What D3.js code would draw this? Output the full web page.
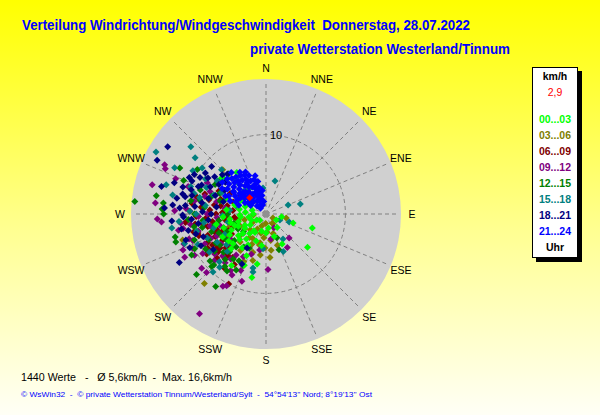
<!DOCTYPE html>
<html>
<head>
<meta charset="utf-8">
<script src="https://d3js.org/d3.v7.min.js"></script>
<style>
  body { margin: 0; }
  svg { display: block; font-family: "Liberation Sans", Arial, sans-serif; }
</style>
</head>
<body>
<svg width="600" height="415"></svg>
<script>
// wind values per 3-hour block: [direction in degrees, speed km/h]
const h00_03 = [[309.3,7.2],[192.5,8.2],[213.7,7.8],[151.9,4.3],[128.8,6.7],[108.4,3.6],[106.9,6.1],
  [242,3.0],[211,2.7],[268,3.3],[286,4.1],[299,2.3],[225,1.1],[240,5.3],[210,4.5],[230,3.8],[220,3.2],
  [250,4.2],[260,2.2],[275,2.6],[255,3.6],[235,2.4],[245,4.8],[262,4.6],[280,3.4],[290,2.8],[215,5.2],
  [200,3.6],[195,2.2],[205,5.8],[225,6.2],[232,4.4],[248,2.0],[270,1.6],[285,1.8],[238,1.4],[218,4.0],
  [252,5.6],[264,3.2],[276,5.0],[298,3.6],[306,2.6],[188,4.0],[180,2.4],[170,1.8],[160,3.0],[140,2.2],
  [120,1.5],[100,2.0],[190,6.4],[203,7.0],[228,5.6],[258,6.4],[292,5.4],[316,4.0],[318,5.8],[325,6.4],[310,6.6],
  [236,3.2],[246,3.8],[256,4.6],[226,4.6],[216,2.6],[242,6.2],[234,5.8],[266,5.4]];
const h03_06 = [[315.7,7.8],[252.6,11.0],[221.5,11.7],[195.8,6.1],[174.7,5.5],[101.3,2.6],[145,1.5],
  [208.4,3.5],[176.8,2.3],[191.7,3.7],[146,1.4],[181.7,4.3],[209.9,4.8],[222.9,4.8],[198.9,5.1],[185,3.0],
  [195,2.5],[205,4.2],[215,3.6],[225,2.8],[235,3.3],[200,1.6],[170,3.4],[188,5.2],[160,2.6],[215,5.6],
  [230,4.4],[245,3.6],[255,2.8],[265,1.6],[182,1.2],[210,2.2],[240,5.8],[226,6.4],[250,5.0],[160,4.2],
  [172,4.6],[120,1.0],[238,2.0],[205,6.6],[192,4.0]];
const h06_09 = [[274,7.1],[270,6.3],[266,7.6],[262,6.8],[258,7.5],[254,6.6],[250,7.8],[246,7.0],[242,6.2],
  [280,6.6],[284,7.4],[288,6.0],[292,5.4],[296,6.6],[276,8.2],[268,8.8],[260,8.0],[252,8.9],[244,8.2],
  [236,7.4],[230,6.6],[224,7.0],[236,9.0],[228,8.3],[218,8.6],[212,7.5],[282,5.0],[272,5.5],[262,5.2],
  [252,5.6],[240,5.0],[276,4.2],[264,4.0],[250,4.4],[290,4.4],[300,5.2],[306,4.0],[272,9.6],[284,9.0],
  [256,9.4],[264,10.2],[248,6.0],[234,5.8],[258,3.6],[288,8.1],[208.0,10.0],[254.4,8.9],[251.9,6.5],
  [239.6,8.5],[231.6,7.7],[238.8,6.4],[222.8,7.1],[217.5,6.9],[233.5,7.2],
  [266,5.0],[256,4.6],[246,5.2],[280,5.8],[270,7.2],[240,7.8],[228,6.0],[262,9.0],[278,9.4],[250,6.8]];
const h09_12 = [[295.9,14.2],[284.4,14.8],[275.7,14.0],[267.3,13.7],[265.6,13.2],[242,11.6],[229.8,10.6],
  [225.5,10.5],[210.8,10.6],[208.8,10.3],[177.9,7.0],[204,7.8],[199.7,9.0],[209.1,8.8],[147.5,5.0],
  [168.7,3.2],[136.2,4.2],[150.3,2.0],[213.7,15.1],[294.2,13.9],[291.3,12.2],[289.4,10.4],[259.5,11.2],
  [246.5,11.4],[244.7,10.2],[280,9.2],[274,10.1],[268,8.5],[262,9.6],[256,8.8],[250,9.8],[244,8.6],
  [238,9.4],[232,8.2],[226,7.6],[220,8.0],[286,8.0],[292,7.6],[298,8.4],[266,6.2],[256,6.0],[246,6.8],
  [236,5.5],[226,5.9],[216,6.4],[208,6.1],[200,5.4],[190,4.6],[278,5.2],[284,6.4],[260,10.6],[250,11.0],
  [240,10.4],[272,11.5],
  [270,7.4],[258,7.2],[246,7.6],[236,6.8],[228,8.8],[218,7.2],[212,8.4],[282,8.6],[264,10.8],[252,10.2]];
const h12_15 = [[317.2,6.9],[275.5,16.6],[279.4,14.0],[272.8,13.1],[270,12.9],[255.7,11.8],[252.7,11.9],
  [229,11.6],[214.8,11.1],[204.3,7.1],[214.4,8.7],[160.1,4.8],[155.4,3.3],[276.2,13.0],[298,12.3],
  [292.2,11.2],[302.9,10.3],[225.6,9.2],[241.1,10.7],[252,7.2],[246,7.9],[240,7.3],[234,8.0],[228,7.2],
  [222,7.7],[216,7.0],[210,6.8],[258,8.2],[264,8.0],[270,9.0],[276,7.8],[282,8.5],[288,7.2],[294,6.4],
  [300,7.4],[246,5.4],[238,6.0],[230,5.2],[222,5.6],[214,5.0],[206,4.8],[262,6.0],[270,4.8],[254,4.2],
  [242,4.0],[232,3.6],[280,9.6],[260,9.2],[250,9.6],[240,8.8],[226,9.5],[290,8.8],[306,7.2],
  [258,6.6],[248,6.4],[236,7.0],[224,6.6],[218,8.4],[230,9.2],[266,9.8],[286,6.0],[244,10.0],[208,8.0]];
const h15_18 = [[299.4,15.9],[311.8,12.7],[308.4,11.4],[296.8,12.9],[314.8,7.9],[15.3,4.3],[353.4,3.3],
  [261.5,12.0],[222.4,9.9],[221,8.9],[193.5,7.0],[192.6,7.5],[184.9,4.4],[155.3,5.2],[145.8,3.8],
  [113.2,1.9],[109.2,3.1],[67.8,3.0],[73.6,4.5],[300.6,10.7],[305.8,9.9],[286.3,13.1],[281.5,12.0],
  [250.1,10.9],[224.4,8.4],[290,7.0],[296,6.2],[303,5.8],[284,8.6],[278,7.7],[270,8.8],[262,7.9],
  [255,6.8],[248,8.0],[240,7.1],[232,6.3],[300,8.8],[310,6.9],[318,5.0],[325,3.8],[268,5.5],[276,4.6],
  [284,3.8],[258,4.9],[244,5.8],[290,10.1],[265,11.0],
  [286,9.4],[272,9.6],[256,9.0],[246,9.4],[236,8.6],[226,6.8],[304,7.4],[294,8.2]];
const h18_21 = [[304.4,15.0],[296.3,15.3],[311.2,9.1],[265.7,11.9],[240.8,12.5],[205.6,7.0],[295.5,10.7],
  [288.8,12.2],[284.7,13.6],[283.5,10.8],[275.5,11.8],[269.3,10.5],[273.4,12.8],[298.8,10.3],[301.8,8.6],
  [294.3,8.9],[287.9,9.9],[246.1,10.5],[209.2,4.9],[280,8.2],[285,7.5],[290,6.8],[296,7.8],[302,7.0],
  [308,6.5],[276,9.0],[272,8.0],[266,9.4],[262,8.6],[258,10.0],[254,9.2],[250,8.4],[292,9.2],[299,9.5],
  [306,8.0],[312,7.4],[278,6.3],[286,5.6],[270,6.9],[282,10.4],[264,7.3],[288,11.0],[244,9.1],[236,8.0],
  [300,6.0],[316,7.0],[274,10.9],
  [284,9.6],[276,10.2],[268,10.4],[260,10.8],[294,10.2],[304,9.2],[280,11.4],[252,10.6]];
const h21_24 = [[300,4.5],[305,5.0],[310,5.3],[315,5.6],[320,5.4],[325,5.2],[330,5.0],[335,4.6],[340,4.0],
  [345,3.5],[302,3.8],[308,4.2],[313,4.6],[318,4.9],[323,4.4],[328,4.1],[333,3.8],[338,3.4],[343,2.9],
  [348,2.4],[298,3.0],[306,3.4],[311,3.1],[317,3.8],[322,3.5],[327,3.0],[332,2.7],[337,2.4],[342,2.0],
  [350,1.6],[296,5.2],[303,5.8],[309,6.0],[316,6.2],[321,6.0],[326,5.8],[331,5.6],[336,5.3],[341,4.6],
  [346,4.2],[299,2.2],[307,2.5],[314,2.2],[320,2.6],[326,2.0],[334,1.8],[340,1.2],[312,1.5],[324,1.3],
  [318,3.2],[292,4.1],[294,5.6],[288,3.6],[290,4.8],[329,4.6],[314,4.0],[304,4.9],[336,3.0],[344,5.0],[351,3.0],
  [300,6.4],[306,6.8],[312,6.6],[320,6.8],[328,6.2],[334,5.9],[296,4.0],[302,2.6],[310,3.7],[316,1.0]];

const series = [h00_03, h03_06, h06_09, h09_12, h12_15, h15_18, h18_21, h21_24];
const hourLabels = ["00...03", "03...06", "06...09", "09...12", "12...15", "15...18", "18...21", "21...24"];
const hourColors = ["#00ff00", "#808000", "#800000", "#800080", "#008000", "#008080", "#000080", "#0000ff"];
// the early-morning block shows through the mix in the picture, so it is drawn late
const drawOrder = [1, 2, 3, 4, 5, 0, 6, 7];
const directions = ["N", "NNE", "NE", "ENE", "E", "ESE", "SE", "SSE", "S", "SSW", "SW", "WSW", "W", "WNW", "NW", "NNW"];
const ringValues = [10];
const currentValue = [315, 2.9];

const svg = d3.select("svg");
const cx = 266, cy = 214;

const r = d3.scaleLinear().domain([0, 17]).range([0, 135]);
const px = (deg, v) => cx + r(v) * Math.sin(deg * Math.PI / 180);
const py = (deg, v) => cy - r(v) * Math.cos(deg * Math.PI / 180);

// --- BACKGROUND ---
const defs = svg.append("defs");
const grad = defs.append("linearGradient").attr("id", "bg")
    .attr("x1", 0).attr("y1", 0).attr("x2", 0).attr("y2", 1);
grad.append("stop").attr("offset", "0%").attr("stop-color", "#ffff00");
grad.append("stop").attr("offset", "55%").attr("stop-color", "#ffff90");
grad.append("stop").attr("offset", "100%").attr("stop-color", "#fffff6");
svg.append("rect").attr("width", 600).attr("height", 415).attr("fill", "url(#bg)");

// --- TITLES ---
svg.append("text").attr("x", 22).attr("y", 30)
    .attr("fill", "#0000ff").attr("font-weight", "bold").attr("font-size", 14)
    .attr("textLength", 448).attr("lengthAdjust", "spacingAndGlyphs")
    .style("white-space", "pre")
    .text("Verteilung Windrichtung/Windgeschwindigkeit  Donnerstag, 28.07.2022");
svg.append("text").attr("x", 250).attr("y", 54)
    .attr("fill", "#0000ff").attr("font-weight", "bold").attr("font-size", 14)
    .attr("textLength", 260).attr("lengthAdjust", "spacingAndGlyphs")
    .text("private Wetterstation Westerland/Tinnum");

// --- POLAR GRID ---
svg.append("circle").attr("cx", cx).attr("cy", cy).attr("r", r(17)).attr("fill", "#d0d0d0");

const grid = svg.append("g").attr("stroke", "#808080").attr("stroke-dasharray", "4,3").attr("fill", "none");
grid.selectAll("line").data(directions).enter().append("line")
    .attr("x1", cx).attr("y1", cy)
    .attr("x2", (d, i) => px(i * 22.5, 16.6))
    .attr("y2", (d, i) => py(i * 22.5, 16.6));
grid.selectAll("circle").data(ringValues).enter().append("circle")
    .attr("cx", cx).attr("cy", cy).attr("r", d => r(d));

svg.selectAll(".ringlabel").data(ringValues).enter().append("text")
    .attr("x", cx + 4).attr("y", d => cy - r(d) + 4)
    .attr("font-size", 11).text(d => d);

svg.selectAll(".dir").data(directions).enter().append("text")
    .attr("x", (d, i) => cx + 146 * Math.sin(i * 22.5 * Math.PI / 180))
    .attr("y", (d, i) => cy - 146 * Math.cos(i * 22.5 * Math.PI / 180) + 4)
    .attr("text-anchor", "middle").attr("font-size", 10.5)
    .text(d => d);

// --- POINTS ---
const diamond = "M0,-3.5L3.5,0L0,3.5L-3.5,0Z";
drawOrder.forEach(k => {
    svg.append("g").selectAll("path").data(series[k]).enter().append("path")
        .attr("d", diamond)
        .attr("transform", d => `translate(${px(d[0], d[1]).toFixed(1)},${py(d[0], d[1]).toFixed(1)})`)
        .attr("fill", hourColors[k]);
});
svg.append("rect").attr("x", cx - 3).attr("y", cy - 3).attr("width", 6).attr("height", 6).attr("fill", "#909090");
svg.append("path").attr("d", diamond)
    .attr("transform", `translate(${px(currentValue[0], currentValue[1])},${py(currentValue[0], currentValue[1])})`)
    .attr("fill", "#ff0000");

// --- LEGEND ---
const lg = svg.append("g");
lg.append("rect").attr("x", 536).attr("y", 71).attr("width", 46).attr("height", 191).attr("fill", "#000");
lg.append("rect").attr("x", 532.5).attr("y", 67.5).attr("width", 45).attr("height", 190)
    .attr("fill", "#fff").attr("stroke", "#000");
lg.append("text").attr("x", 555).attr("y", 80).attr("text-anchor", "middle")
    .attr("font-size", 10.5).attr("font-weight", "bold").text("km/h");
lg.append("text").attr("x", 555).attr("y", 96).attr("text-anchor", "middle")
    .attr("font-size", 10.5).attr("fill", "#ff0000").text(String(currentValue[1]).replace(".", ","));
lg.selectAll(".hr").data(hourLabels).enter().append("text")
    .attr("x", 555).attr("y", (d, i) => 123 + i * 16)
    .attr("text-anchor", "middle").attr("font-size", 10.5).attr("font-weight", "bold")
    .attr("fill", (d, i) => hourColors[i]).text(d => d);
lg.append("text").attr("x", 555).attr("y", 251).attr("text-anchor", "middle")
    .attr("font-size", 10.5).attr("font-weight", "bold").text("Uhr");

// --- FOOTER ---
svg.append("text").attr("x", 21).attr("y", 381).attr("font-size", 11)
    .attr("textLength", 211).attr("lengthAdjust", "spacingAndGlyphs")
    .style("white-space", "pre")
    .text("1440 Werte   -   Ø 5,6km/h  -  Max. 16,6km/h");
svg.append("text").attr("x", 21).attr("y", 397).attr("font-size", 8).attr("fill", "#0000ff")
    .attr("textLength", 351).attr("lengthAdjust", "spacingAndGlyphs")
    .style("white-space", "pre")
    .text("© WsWin32  -  © private Wetterstation Tinnum/Westerland/Sylt  -  54°54'13'' Nord; 8°19'13'' Ost");
</script>
</body>
</html>
